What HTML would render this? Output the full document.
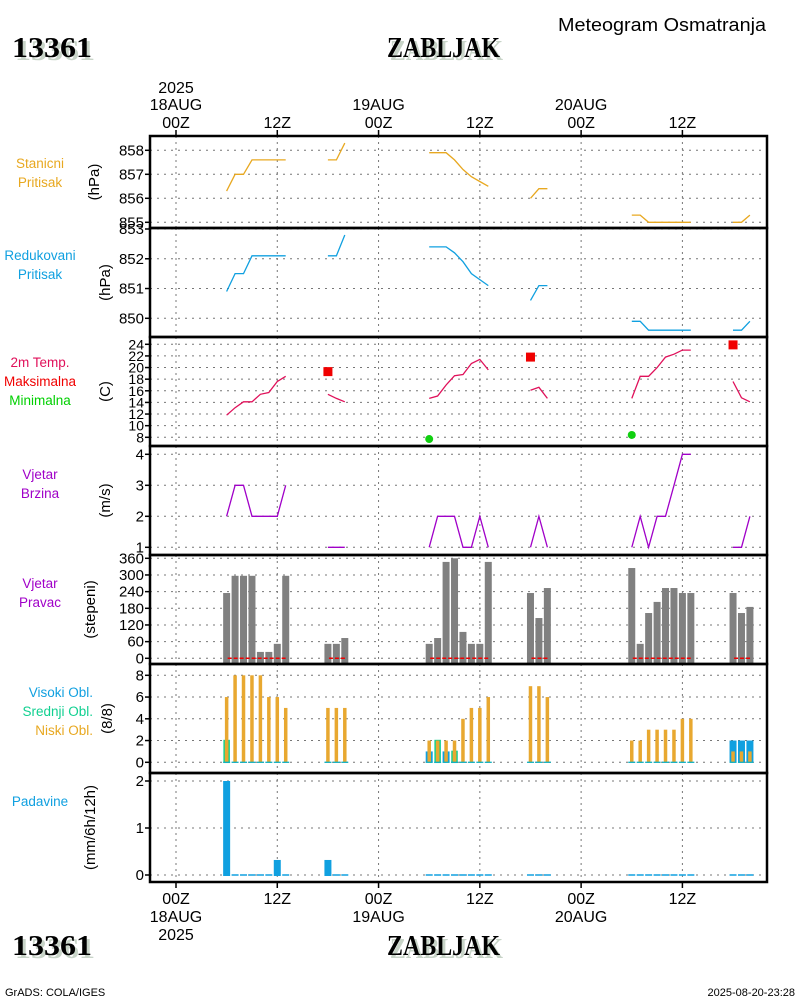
<!DOCTYPE html>
<html><head><meta charset="utf-8"><title>Meteogram ZABLJAK</title>
<style>
html,body{margin:0;padding:0;background:#fff;}
svg{display:block;font-family:"Liberation Sans",sans-serif;}
.ttl{font-family:"Liberation Serif",serif;font-weight:bold;font-size:29px;}
</style></head>
<body>
<svg id="chart" width="800" height="1000" viewBox="0 0 800 1000" xmlns="http://www.w3.org/2000/svg">
<rect width="800" height="1000" fill="#fff"/>
<g>
<text x="558" y="31" font-size="18" textLength="208" lengthAdjust="spacingAndGlyphs">Meteogram Osmatranja</text>
<text class="ttl" x="15" y="60" fill="#c8d4c8" textLength="80" lengthAdjust="spacingAndGlyphs">13361</text>
<text class="ttl" x="12" y="57" fill="#000" textLength="80" lengthAdjust="spacingAndGlyphs">13361</text>
<text class="ttl" x="390" y="60" fill="#c8d4c8" textLength="113" lengthAdjust="spacingAndGlyphs">ZABLJAK</text>
<text class="ttl" x="387" y="57" fill="#000" textLength="113" lengthAdjust="spacingAndGlyphs">ZABLJAK</text>
<text class="ttl" x="15" y="958" fill="#c8d4c8" textLength="80" lengthAdjust="spacingAndGlyphs">13361</text>
<text class="ttl" x="12" y="955" fill="#000" textLength="80" lengthAdjust="spacingAndGlyphs">13361</text>
<text class="ttl" x="390" y="958" fill="#c8d4c8" textLength="113" lengthAdjust="spacingAndGlyphs">ZABLJAK</text>
<text class="ttl" x="387" y="955" fill="#000" textLength="113" lengthAdjust="spacingAndGlyphs">ZABLJAK</text>
<text x="5" y="996" font-size="11">GrADS: COLA/IGES</text>
<text x="795" y="996" font-size="11" text-anchor="end">2025-08-20-23:28</text>
</g>
<g id="plot"></g>
</svg>
<script>
const hours=[6,7,8,9,10,11,12,13,18,19,20,30,31,32,33,34,35,36,37,42,43,44,54,55,56,57,58,59,60,61,66,67,68];
const stanPress=[856.3,857.0,857.0,857.6,857.6,857.6,857.6,857.6,857.6,857.6,858.3,857.9,857.9,857.9,857.6,857.2,856.9,856.7,856.5,856.0,856.4,856.4,855.3,855.3,855.0,855.0,855.0,855.0,855.0,855.0,855.0,855.0,855.3];
const redPress=[850.9,851.5,851.5,852.1,852.1,852.1,852.1,852.1,852.1,852.1,852.8,852.4,852.4,852.4,852.2,851.9,851.5,851.3,851.1,850.6,851.1,851.1,849.9,849.9,849.6,849.6,849.6,849.6,849.6,849.6,849.6,849.6,849.9];
const temp=[11.8,13.1,14.1,14.1,15.4,15.7,17.6,18.5,15.4,14.7,14.1,14.7,15.1,17.0,18.6,18.8,20.7,21.4,19.6,16.1,16.6,14.7,14.7,18.5,18.5,20.0,21.8,22.3,23.0,23.0,17.6,14.8,14.1];
const tmaxHours=[18,42,66];
const tmaxVals=[19.3,21.8,23.9];
const tminHours=[30,54];
const tminVals=[7.7,8.4];
const windSpeed=[2,3,3,2,2,2,2,3,1,1,1,1,2,2,2,1,1,2,1,1,2,1,1,2,1,2,2,3,4,4,1,1,2];
const windDir=[235,297,297,297,23,23,52,297,52,52,73,52,73,347,360,95,52,52,347,235,145,253,325,52,163,203,253,253,235,235,235,163,185];
const lowCloud=[6,8,8,8,8,6,6,5,5,5,5,2,2,2,2,4,5,5,6,7,7,6,2,2,3,3,3,3,4,4,1,1,1];
const midCloud=[2,0,0,0,0,0,0,0,0,0,0,0,2,0,1,0,0,0,0,0,0,0,0,0,0,0,0,0,0,0,0,0,0];
const highCloud=[0,0,0,0,0,0,0,0,0,0,0,1,0,1,0,0,0,0,0,0,0,0,0,0,0,0,0,0,0,0,2,2,2];
const precip=[2.0,0,0,0,0,0,0.32,0,0.32,0,0,0,0,0,0,0,0,0,0,0,0,0,0,0,0,0,0,0,0,0,0,0,0];
const stanTicks=[858,857,856,855];
const redTicks=[853,852,851,850];
const tempTicks=[24,22,20,18,16,14,12,10,8];
const speedTicks=[4,3,2,1];
const dirTicks=[360,300,240,180,120,60,0];
const cloudTicks=[8,6,4,2,0];
const precipTicks=[2,1,0];
const timeTickHours=[0,12,24,36,48,60];
const timeTickLabels=["00Z","12Z","00Z","12Z","00Z","12Z"];
const dayLabels=["18AUG","","19AUG","","20AUG",""];

const NS="http://www.w3.org/2000/svg";
const root=document.getElementById('plot');
const X0=150,X1=767;
const xs=h=>176+h*8.44;
function el(tag,attrs,parent){const e=document.createElementNS(NS,tag);for(const k in attrs)e.setAttribute(k,attrs[k]);(parent||root).appendChild(e);return e;}
function txt(s,x,y,attrs,parent){const e=el('text',Object.assign({x:x,y:y,'font-size':15},attrs||{}),parent);e.textContent=s;return e;}
function lin(v,v0,y0,v1,y1){return y0+(v-v0)*(y1-y0)/(v1-v0);}

const panels=[
 {name:'station-pressure',top:136,bot:228,ticks:stanTicks,y:v=>lin(v,858,150.3,855,222.3),labels:[['Stanicni','#e8a820'],['Pritisak','#e8a820']],unit:'(hPa)',ly:168,ux:99},
 {name:'reduced-pressure',top:228,bot:337,ticks:redTicks,y:v=>lin(v,853,229,850,318.3),labels:[['Redukovani','#10a0e0'],['Pritisak','#10a0e0']],unit:'(hPa)',ly:260,ux:110},
 {name:'temperature',top:337,bot:446,ticks:tempTicks,y:v=>lin(v,24,344.3,8,437.3),labels:[['2m Temp.','#e0105a'],['Maksimalna','#f00000'],['Minimalna','#00d000']],unit:'(C)',ly:367,tf:14,ux:110},
 {name:'wind-speed',top:446,bot:555,ticks:speedTicks,y:v=>lin(v,4,454.3,1,547.3),labels:[['Vjetar','#a000c8'],['Brzina','#a000c8']],unit:'(m/s)',ly:479,ux:110},
 {name:'wind-direction',top:555,bot:664,ticks:dirTicks,y:v=>lin(v,360,558.3,0,658.3),labels:[['Vjetar','#a000c8'],['Pravac','#a000c8']],unit:'(stepeni)',ly:588,ux:95},
 {name:'cloud-cover',top:664,bot:773,ticks:cloudTicks,y:v=>lin(v,8,675.3,0,762.3),labels:[['Visoki Obl.','#10a0e0'],['Srednji Obl.','#10d090'],['Niski Obl.','#e8a820']],unit:'(8/8)',ly:697,alignRight:true,ux:112},
 {name:'precipitation',top:773,bot:882,ticks:precipTicks,y:v=>lin(v,2,781,0,875),labels:[['Padavine','#10a0e0']],unit:'(mm/6h/12h)',ly:806,ux:95}
];

panels.forEach(p=>{
 const g=el('g',{});
 
 
 p.g=g;
 timeTickHours.forEach(h=>{const l=el('line',{x1:xs(h),x2:xs(h),y1:p.top,y2:p.bot,stroke:'#777','stroke-dasharray':'2,4','stroke-width':1},g);
  });
 p.ticks.forEach(t=>{const y=p.y(t);
  const l=el('line',{x1:X0,x2:X1,y1:y,y2:y,stroke:'#777','stroke-dasharray':'2,5','stroke-width':1},g);
  
  const tk=el('line',{x1:X0-5,x2:X0,y1:y,y2:y,stroke:'#000','stroke-width':1.5},g);
  
  const tl=txt(String(t),X0-6,y+5,{'text-anchor':'end','font-size':p.tf||15},g);
  
 });
 p.labels.forEach((lb,i)=>{
  const t=txt(lb[0],p.alignRight?93:40,p.ly+i*19,{fill:lb[1],'text-anchor':p.alignRight?'end':'middle','font-size':13.5},g);
  
 });
 const cy=(p.top+p.bot)/2;
 const u=txt(p.unit,0,0,{'text-anchor':'middle','font-size':15,transform:`translate(${p.ux},${cy}) rotate(-90)`},g);
 
});

function segments(vals,panel,color,nm){
 const p=panel;let pts=[];
 const flush=()=>{if(pts.length>1){const pl=el('polyline',{points:pts.join(' '),fill:'none',stroke:color,'stroke-width':1.3},p.g);
   }pts=[];};
 hours.forEach((h,i)=>{if(i>0&&h-hours[i-1]!==1)flush();pts.push(xs(h).toFixed(1)+','+p.y(vals[i]).toFixed(1));});
 flush();
}
segments(stanPress,panels[0],'#e8a820','station-pressure-line');
segments(redPress,panels[1],'#10a0e0','reduced-pressure-line');
segments(temp,panels[2],'#e0105a','temperature-line');
segments(windSpeed,panels[3],'#a000c8','wind-speed-line');
tmaxHours.forEach((h,i)=>{const r=el('rect',{x:xs(h)-4.5,y:panels[2].y(tmaxVals[i])-4.5,width:9,height:9,fill:'#f00000'},panels[2].g);
 });
tminHours.forEach((h,i)=>{const c=el('circle',{cx:xs(h),cy:panels[2].y(tminVals[i]),r:4,fill:'#10d010'},panels[2].g);
 });

const pd=panels[4];
hours.forEach((h,i)=>{const y=pd.y(windDir[i]);
 const b=el('rect',{x:xs(h)-3.5,y:y,width:7,height:pd.bot-y,fill:'#808080'},pd.g);
 });
{let run=[];const fl=()=>{if(run.length){const l=el('line',{x1:xs(run[0])+1,x2:xs(run[run.length-1])+1,y1:pd.y(0),y2:pd.y(0),stroke:'#f00000','stroke-width':1.5,'stroke-dasharray':'4,2'},pd.g);
 }run=[];};
 hours.forEach((h,i)=>{if(i>0&&h-hours[i-1]!==1)fl();run.push(h);});fl();}

const pc=panels[5];
hours.forEach((h,i)=>{const y0=pc.y(0);
 if(highCloud[i]>0){const r=el('rect',{x:xs(h)-3.5,y:pc.y(highCloud[i]),width:7,height:y0-pc.y(highCloud[i]),fill:'#10a0e0'},pc.g);
  }
 if(midCloud[i]>0){const r=el('rect',{x:xs(h)-2.5,y:pc.y(midCloud[i]),width:5,height:y0-pc.y(midCloud[i]),fill:'#e8a820',stroke:'#10d090','stroke-width':1.5},pc.g);
  }
 const r=el('rect',{x:xs(h)-1.75,y:pc.y(lowCloud[i]),width:3.5,height:y0-pc.y(lowCloud[i]),fill:'#e8a830'},pc.g);
 
 const z=el('line',{x1:xs(h)-3.5,x2:xs(h)+3.5,y1:y0,y2:y0,stroke:'#10b0c0','stroke-width':1.3},pc.g);
 
});

const pp=panels[6];
hours.forEach((h,i)=>{const y0=pp.y(0);
 if(precip[i]>0){const r=el('rect',{x:xs(h)-3.5,y:pp.y(precip[i]),width:7,height:y0-pp.y(precip[i])+1,fill:'#10a0e0'},pp.g);
  }
 else{const z=el('line',{x1:xs(h)-3.5,x2:xs(h)+3.5,y1:y0,y2:y0,stroke:'#10a0e0','stroke-width':1.5},pp.g);
  }
});

panels.forEach(p=>{const r=el('rect',{x:X0,y:p.top,width:X1-X0,height:p.bot-p.top,fill:'none',stroke:'#000','stroke-width':2.5});
 });

timeTickHours.forEach((h,i)=>{const x=xs(h);
 const t1=el('line',{x1:x,x2:x,y1:130,y2:136,stroke:'#000','stroke-width':1.5});
 
 const t2=el('line',{x1:x,x2:x,y1:882,y2:888,stroke:'#000','stroke-width':1.5});
 
 const a=txt(timeTickLabels[i],x,128,{'text-anchor':'middle','font-size':16});
 
 const b=txt(timeTickLabels[i],x,904,{'text-anchor':'middle','font-size':16});
 
 if(dayLabels[i]){
  const c=txt(dayLabels[i],x,110,{'text-anchor':'middle','font-size':16});
  
  const d=txt(dayLabels[i],x,922,{'text-anchor':'middle','font-size':16});
  
 }
});
const y1=txt('2025',xs(0),93,{'text-anchor':'middle','font-size':16});

const y2=txt('2025',xs(0),940,{'text-anchor':'middle','font-size':16});

</script>
</body></html>
